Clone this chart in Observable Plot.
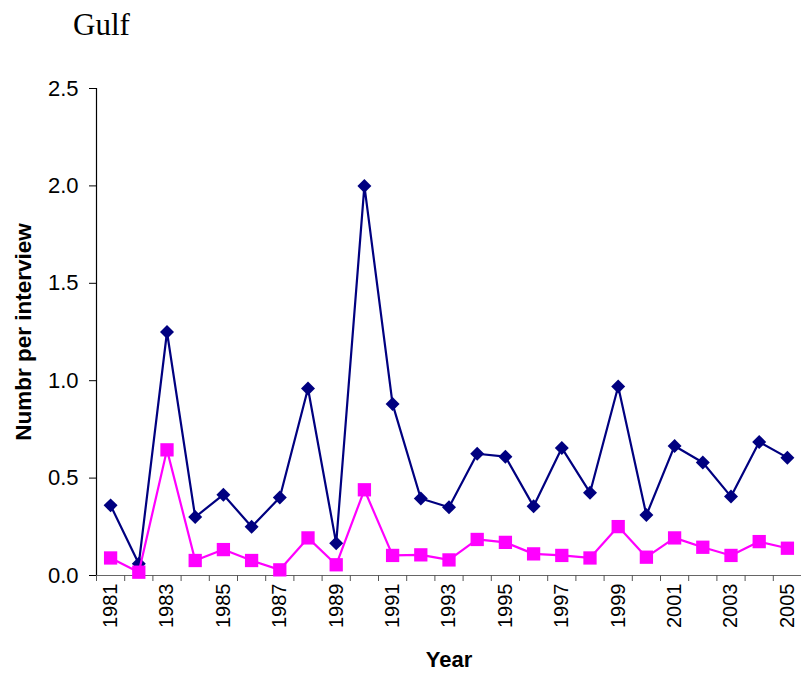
<!DOCTYPE html>
<html><head><meta charset="utf-8">
<script src="https://cdn.jsdelivr.net/npm/d3@7"></script>
<script src="https://cdn.jsdelivr.net/npm/@observablehq/plot@0.6"></script>
<style>
body{margin:0;background:#fff;}
#wrap{position:relative;width:801px;height:679px;}
#title{position:absolute;left:73px;top:9px;font-family:"Liberation Serif","Times New Roman",serif;font-size:31px;line-height:1;color:#000;}
</style></head><body>
<div id="wrap"><div id="title">Gulf</div><div id="chart"></div></div>
<script>
const years = [1981,1982,1983,1984,1985,1986,1987,1988,1989,1990,1991,1992,1993,1994,1995,1996,1997,1998,1999,2000,2001,2002,2003,2004,2005];
const seriesNavy = [0.36,0.06,1.25,0.30,0.415,0.25,0.40,0.96,0.165,2.00,0.88,0.395,0.35,0.625,0.61,0.355,0.655,0.425,0.97,0.31,0.665,0.58,0.405,0.685,0.605];
const seriesMagenta = [0.09,0.017,0.645,0.077,0.133,0.077,0.029,0.193,0.055,0.44,0.103,0.106,0.08,0.185,0.17,0.111,0.103,0.09,0.251,0.094,0.193,0.145,0.103,0.174,0.14];
const yTicks = [0,0.5,1.0,1.5,2.0,2.5];
const xLabelYears = years.filter(y => y % 2 === 1);
const xBoundaries = [...years.map(y => y - 0.5), years[years.length-1] + 0.5];

const chart = Plot.plot({
  width: 801,
  height: 679,
  marginLeft: 96,
  marginRight: 0,
  marginTop: 88,
  marginBottom: 104,
  style: {fontFamily: "'Liberation Sans', Arial, sans-serif", fontSize: "22px", color: "#000", background: "#fff"},
  x: {domain: [xBoundaries[0], xBoundaries[xBoundaries.length-1]]},
  y: {domain: [0, 2.5]},
  marks: [
    Plot.ruleY([0], {stroke: "#666", strokeWidth: 1.2}),
    Plot.ruleX([xBoundaries[0]], {stroke: "#000", strokeWidth: 1.2}),
    Plot.axisY({ticks: yTicks, tickFormat: d => d.toFixed(1), tickSize: 7, tickPadding: 11, label: null, fontSize: 22}),
    Plot.axisX({ticks: xBoundaries, tickSize: 6, tickFormat: () => "", label: null, stroke: "#555"}),
    Plot.axisX({ticks: xLabelYears, tickSize: 0, tickRotate: -90, tickPadding: 8, tickFormat: d => String(d), label: null, fontSize: 20}),
    Plot.line(seriesNavy, {x: (d, i) => years[i], y: d => d, stroke: "#000080", strokeWidth: 2.2}),
    Plot.dot(seriesNavy, {x: (d, i) => years[i], y: d => d, symbol: "diamond2", r: 6.3, fill: "#000080", stroke: "none"}),
    Plot.line(seriesMagenta, {x: (d, i) => years[i], y: d => d, stroke: "#FF00FF", strokeWidth: 2.2}),
    Plot.dot(seriesMagenta, {x: (d, i) => years[i], y: d => d, symbol: "square", r: 7.5, fill: "#FF00FF", stroke: "none"}),
    Plot.text(["Numbr per interview"], {frameAnchor: "left", rotate: -90, dx: -73, fontWeight: "bold", fontSize: 22.5, textAnchor: "middle"}),
    Plot.text(["Year"], {frameAnchor: "bottom", dy: 91, fontWeight: "bold", fontSize: 22, textAnchor: "middle"})
  ]
});
document.getElementById("chart").appendChild(chart);
</script>
</body></html>
